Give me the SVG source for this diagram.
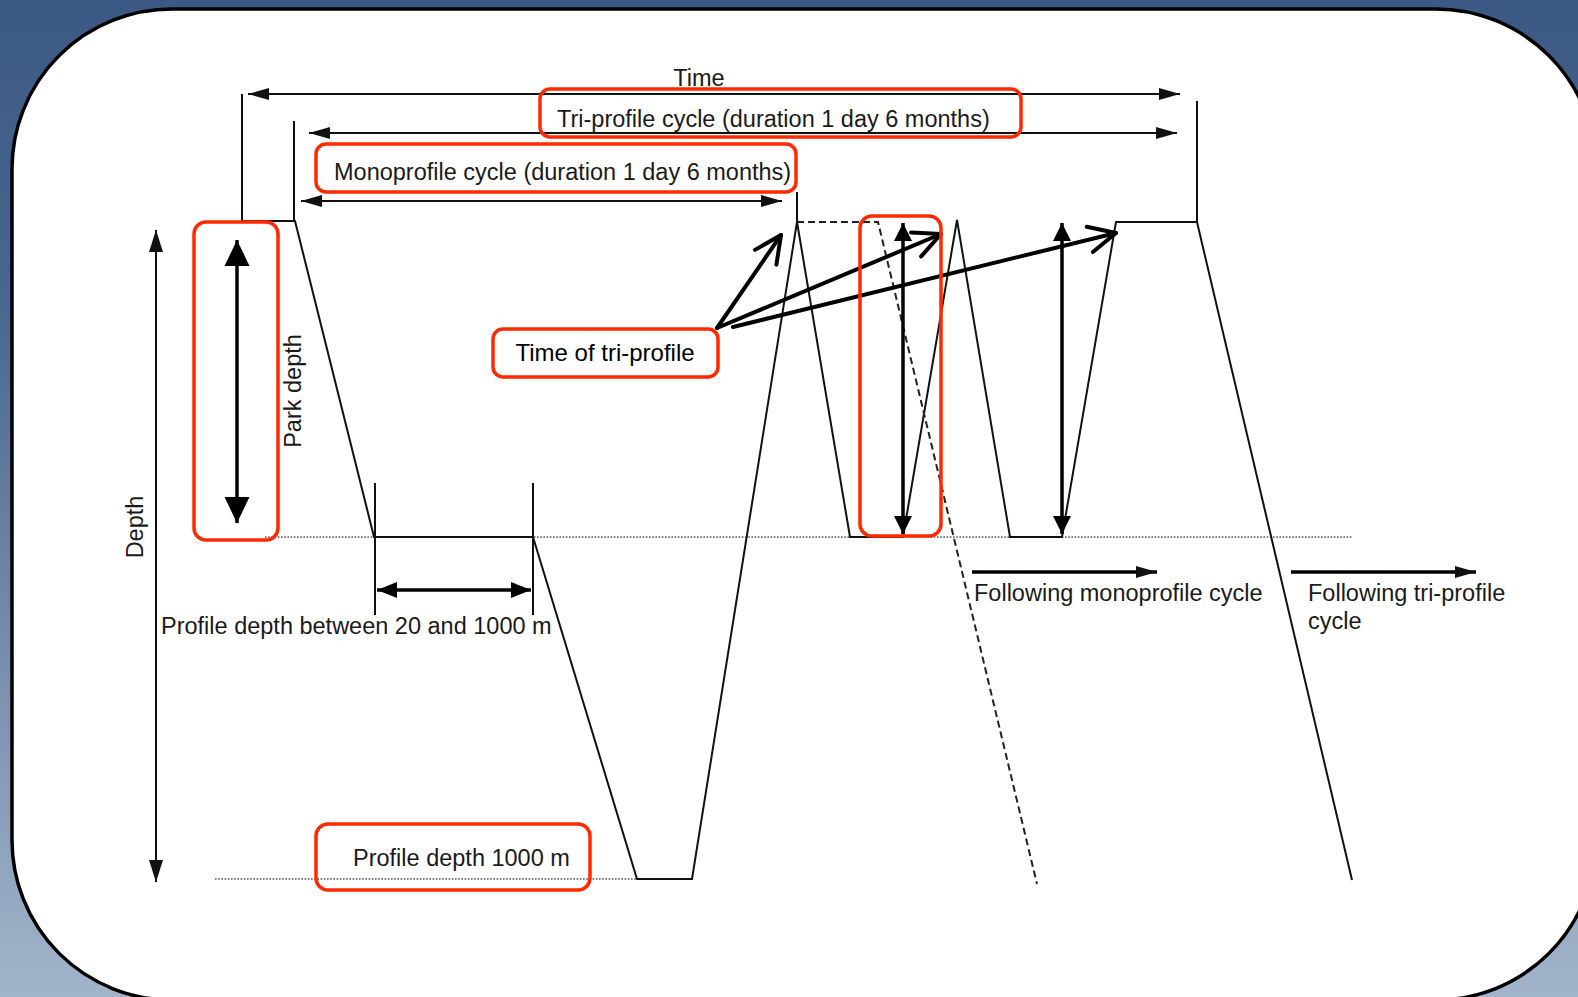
<svg xmlns="http://www.w3.org/2000/svg" width="1578" height="997" viewBox="0 0 1578 997">
<defs>
<linearGradient id="bg" x1="0" y1="0" x2="0" y2="1">
<stop offset="0" stop-color="#3c5985"/>
<stop offset="0.3" stop-color="#4a668e"/>
<stop offset="1" stop-color="#a1b4ca"/>
</linearGradient>
<marker id="mThin" markerUnits="userSpaceOnUse" markerWidth="24" markerHeight="16" viewBox="-22 -8 24 16" refX="0" refY="0" orient="auto-start-reverse"><path d="M0,0 L-21,-6 L-21,6 Z" fill="#111"/></marker>
<marker id="mDepth" markerUnits="userSpaceOnUse" markerWidth="26" markerHeight="18" viewBox="-24 -9 26 18" refX="0" refY="0" orient="auto-start-reverse"><path d="M0,0 L-22,-7 L-22,7 Z" fill="#111"/></marker>
<marker id="mPark" markerUnits="userSpaceOnUse" markerWidth="30" markerHeight="28" viewBox="-28 -14 30 28" refX="0" refY="0" orient="auto-start-reverse"><path d="M0,0 L-26,-12.5 L-26,12.5 Z" fill="#000"/></marker>
<marker id="mVert" markerUnits="userSpaceOnUse" markerWidth="22" markerHeight="22" viewBox="-20 -11 22 22" refX="0" refY="0" orient="auto-start-reverse"><path d="M0,0 L-18,-9 L-18,9 Z" fill="#000"/></marker>
<marker id="mProf" markerUnits="userSpaceOnUse" markerWidth="24" markerHeight="20" viewBox="-22 -10 24 20" refX="0" refY="0" orient="auto-start-reverse"><path d="M0,0 L-20,-8 L-20,8 Z" fill="#000"/></marker>
<marker id="mOpen" markerUnits="userSpaceOnUse" markerWidth="40" markerHeight="40" viewBox="-32 -20 40 40" refX="0" refY="0" orient="auto"><path d="M-27,-13 L0,0 L-27,13" fill="none" stroke="#000" stroke-width="4" stroke-linecap="round" stroke-linejoin="round"/></marker>
</defs>
<style>
.t{font-family:"Liberation Sans",Arial,sans-serif;font-size:23.5px;fill:#1a1a1a}
.tb{font-family:"Liberation Sans",Arial,sans-serif;font-size:24px;fill:#000}
.red{fill:none;stroke:#ff2a00;stroke-width:3.5}
.prof{fill:none;stroke:#111;stroke-width:2;stroke-linejoin:miter}
.dot{fill:none;stroke:#555;stroke-width:1.6;stroke-dasharray:1.6 1.6}
.dash{fill:none;stroke:#222;stroke-width:2;stroke-dasharray:7 4}
.dim{fill:none;stroke:#111;stroke-width:2}
.arr{fill:none;stroke:#000;stroke-width:3.5}
.open{fill:none;stroke:#000;stroke-width:4;stroke-linecap:round}
</style>
<rect x="0" y="0" width="1578" height="997" fill="url(#bg)"/>
<rect id="panel" x="12" y="9" width="1584" height="991" rx="160" ry="160" fill="#fff" stroke="#000" stroke-width="3.5"/>

<g id="guides">
<line class="dot" x1="265" y1="537" x2="1352" y2="537"/>
<line class="dot" x1="215" y1="879" x2="637" y2="879"/>
</g>

<g id="profile">
<polyline class="prof" points="242,221 295,221 374,537 533,537 637,879 692,879 797,222 850,537 903,537 957,220 1010,537 1062,537 1116,222 1197,222 1352,880"/>
<polyline class="dash" points="797,222 878,222 1037,884"/>
</g>

<g id="connectors">
<line class="dim" x1="242" y1="94" x2="242" y2="221"/>
<line class="dim" x1="294" y1="121" x2="294" y2="221"/>
<line class="dim" x1="797" y1="192" x2="797" y2="222"/>
<line class="dim" x1="1197" y1="101" x2="1197" y2="222"/>
<line class="dim" x1="375" y1="483" x2="375" y2="615"/>
<line class="dim" x1="533" y1="483" x2="533" y2="615"/>
<line class="dim" x1="248" y1="94" x2="1180" y2="94" marker-start="url(#mThin)" marker-end="url(#mThin)"/>
<line class="dim" x1="309" y1="133" x2="1177" y2="133" marker-start="url(#mThin)" marker-end="url(#mThin)"/>
<line class="dim" x1="301" y1="201" x2="782" y2="201" marker-start="url(#mThin)" marker-end="url(#mThin)"/>
<line class="dim" x1="156" y1="230" x2="156" y2="882" marker-start="url(#mDepth)" marker-end="url(#mDepth)"/>
<line class="arr" x1="237" y1="240" x2="237" y2="523" marker-start="url(#mPark)" marker-end="url(#mPark)"/>
<line class="arr" x1="377" y1="590" x2="531" y2="590" stroke-width="3" marker-start="url(#mProf)" marker-end="url(#mProf)"/>
<line class="arr" x1="903" y1="223" x2="903" y2="534" stroke-width="3" marker-start="url(#mVert)" marker-end="url(#mVert)"/>
<line class="arr" x1="1062" y1="223" x2="1062" y2="534" stroke-width="3" marker-start="url(#mVert)" marker-end="url(#mVert)"/>
<line class="arr" x1="972" y1="572" x2="1157" y2="572" stroke-width="3" marker-end="url(#mThin)"/>
<line class="arr" x1="1291" y1="572" x2="1476" y2="572" stroke-width="3" marker-end="url(#mThin)"/>
<line class="open" x1="717" y1="328" x2="781" y2="235" marker-end="url(#mOpen)"/>
<line class="open" x1="717" y1="328" x2="941" y2="234" marker-end="url(#mOpen)"/>
<line class="open" x1="733" y1="327" x2="1116" y2="233" marker-end="url(#mOpen)"/>
</g>

<g id="time-label"><text class="t" x="699" y="86" text-anchor="middle">Time</text></g>
<g id="tri-cycle"><rect class="red" x="540" y="89" width="481" height="48" rx="10"/><text class="t" x="557" y="127">Tri-profile cycle (duration 1 day 6 months)</text></g>
<g id="mono-cycle"><rect class="red" x="316" y="144" width="480" height="48" rx="10"/><text class="t" x="334" y="180">Monoprofile cycle (duration 1 day 6 months)</text></g>
<g id="park-depth"><rect class="red" x="194" y="222" width="84" height="318" rx="12"/><text class="t" transform="translate(301,391) rotate(-90)" text-anchor="middle">Park depth</text></g>
<g id="depth-label"><text class="t" transform="translate(143,527) rotate(-90)" text-anchor="middle">Depth</text></g>
<g id="time-of-tri"><rect class="red" x="493" y="329" width="225" height="48" rx="10"/><text class="tb" x="605" y="361" text-anchor="middle">Time of tri-profile</text></g>
<g id="tri-window"><rect class="red" x="860" y="216" width="81" height="320" rx="12"/></g>
<g id="profile-between"><text class="t" x="161" y="634">Profile depth between 20 and 1000 m</text></g>
<g id="profile-1000"><rect class="red" x="316" y="824" width="274" height="66" rx="12"/><text class="t" x="353" y="866">Profile depth 1000 m</text></g>
<g id="following-mono"><text class="t" x="974" y="601">Following monoprofile cycle</text></g>
<g id="following-tri"><text class="t" x="1308" y="601">Following tri-profile</text><text class="t" x="1308" y="629">cycle</text></g>
</svg>
